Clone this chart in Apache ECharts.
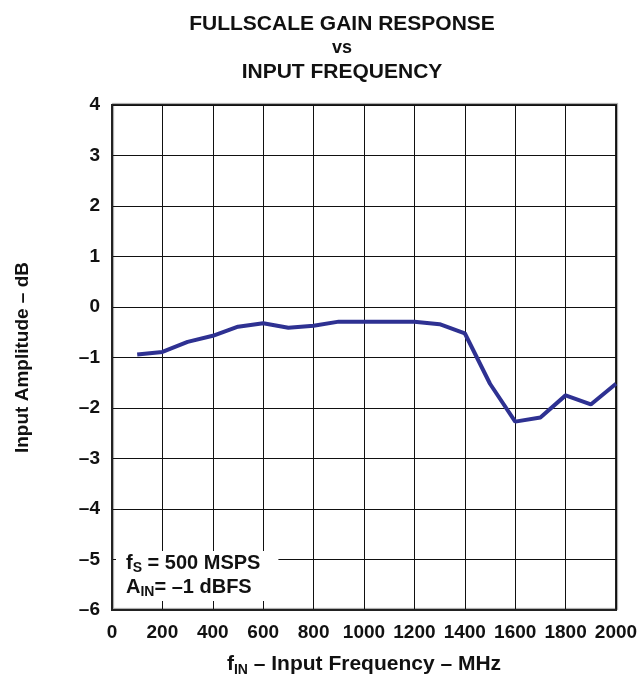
<!DOCTYPE html>
<html>
<head>
<meta charset="utf-8">
<script src="https://cdn.jsdelivr.net/npm/echarts@6/dist/echarts.min.js"></script>
<style>
	html, body { margin: 0; padding: 0; background: #fff; }
	#chart { width: 641px; height: 675px; }
</style>
</head>
<body>
<div id="chart"></div>
<script>
//Chart data
let freqs = [100, 200, 300, 400, 500, 600, 700, 800, 900, 1000, 1100, 1200, 1300, 1400, 1500, 1600, 1700, 1800, 1900, 2000];
let gain = [-0.94, -0.89, -0.69, -0.57, -0.39, -0.32, -0.41, -0.37, -0.29, -0.29, -0.29, -0.29, -0.34, -0.52, -1.52, -2.27, -2.19, -1.75, -1.93, -1.52];
let xTicks = [0, 200, 400, 600, 800, 1000, 1200, 1400, 1600, 1800, 2000];
let yTicks = [-6, -5, -4, -3, -2, -1, 0, 1, 2, 3, 4];

let font = 'Liberation Sans, Arial, Helvetica, sans-serif';
let ink = '#111';

window.onload = function () {
	let chart = echarts.init(document.getElementById('chart'));

	let option = {
		backgroundColor: '#fff',
		animation: false,
		title: [{
			//Main heading, three lines
			text: '{a|FULLSCALE GAIN RESPONSE}\n{b|vs}\n{a|INPUT FREQUENCY}',
			left: 337,
			top: 7,
			textAlign: 'center',
			textStyle: {
				rich: {
					a: { fontFamily: font, fontWeight: 'bold', fontSize: 21, color: ink, lineHeight: 24, align: 'center' },
					b: { fontFamily: font, fontWeight: 'bold', fontSize: 18, color: ink, lineHeight: 24, align: 'center' }
				}
			}
		}, {
			//Test conditions box
			text: '{m|f}{s|S}{m| = 500 MSPS}\n{m|A}{s|IN}{m|= \u20131 dBFS}',
			left: 116,
			top: 549,
			backgroundColor: '#fff',
			padding: [2, 18, 2, 10],
			textStyle: {
				rich: {
					m: { fontFamily: font, fontWeight: 'bold', fontSize: 20, color: ink, lineHeight: 24, verticalAlign: 'middle' },
					s: { fontFamily: font, fontWeight: 'bold', fontSize: 14, color: ink, lineHeight: 24, verticalAlign: 'bottom' }
				}
			}
		}],
		grid: {
			left: 112,
			right: 25,
			top: 105,
			bottom: 65,
			outerBoundsMode: 'none',
			show: true,
			borderColor: '#222',
			borderWidth: 2,
			shadowColor: 'rgba(0,0,0,0.35)',
			shadowOffsetX: 1,
			shadowOffsetY: -1,
			shadowBlur: 1
		},
		xAxis: {
			type: 'value',
			min: xTicks[0],
			max: xTicks[xTicks.length - 1],
			interval: 200,
			name: '{m|f}{s|IN}{m| \u2013 Input Frequency \u2013 MHz}',
			nameLocation: 'middle',
			nameGap: 41,
			nameTextStyle: {
				rich: {
					m: { fontFamily: font, fontWeight: 'bold', fontSize: 21, color: ink, lineHeight: 26, verticalAlign: 'middle' },
					s: { fontFamily: font, fontWeight: 'bold', fontSize: 14, color: ink, lineHeight: 26, verticalAlign: 'bottom' }
				}
			},
			axisLine: { show: true, onZero: false, lineStyle: { color: '#222', width: 2 } },
			axisTick: { show: false },
			axisLabel: {
				fontFamily: font, fontWeight: 'bold', fontSize: 19, color: ink, margin: 13,
				formatter: function (v) { return String(v); }
			},
			splitLine: { show: true, lineStyle: { color: '#111', width: 1 } }
		},
		yAxis: {
			type: 'value',
			min: yTicks[0],
			max: yTicks[yTicks.length - 1],
			interval: 1,
			name: 'Input Amplitude \u2013 dB',
			nameLocation: 'middle',
			nameGap: 80,
			nameTextStyle: { fontFamily: font, fontWeight: 'bold', fontSize: 19, color: ink },
			axisLine: { show: true, onZero: false, lineStyle: { color: '#222', width: 2 } },
			axisTick: { show: false },
			axisLabel: {
				fontFamily: font, fontWeight: 'bold', fontSize: 19, color: ink, margin: 12,
				formatter: function (v) { return String(v).replace('-', '\u2013'); }
			},
			splitLine: { show: true, lineStyle: { color: '#111', width: 1 } }
		},
		series: [{
			type: 'line',
			data: freqs.map(function (f, i) { return [f, gain[i]]; }),
			showSymbol: false,
			lineStyle: { color: '#2e3192', width: 4 },
			z: 1
		}]
	};

	chart.setOption(option);
};
</script>
</body>
</html>
